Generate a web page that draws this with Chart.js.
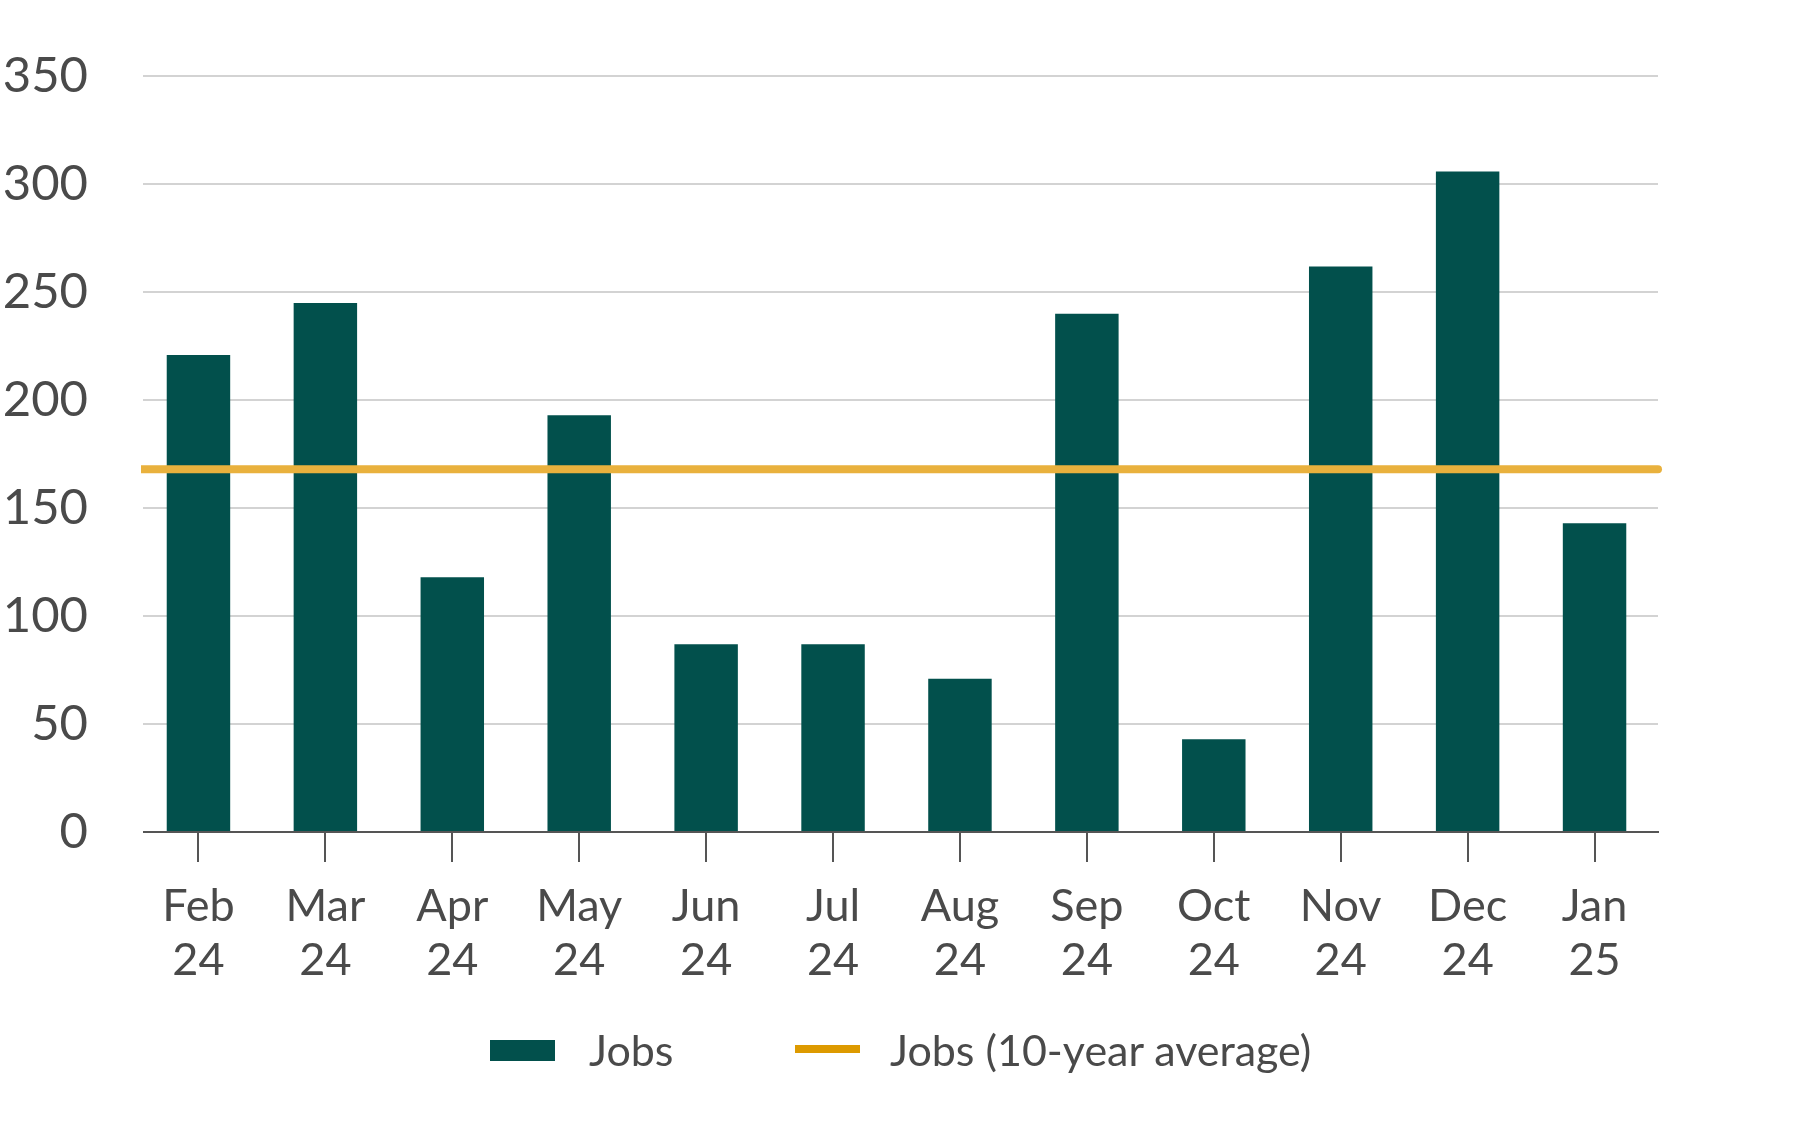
<!DOCTYPE html>
<html>
<head>
<meta charset="utf-8">
<script src="https://cdn.jsdelivr.net/npm/chart.js@4.4.1/dist/chart.umd.min.js"></script>
<style>
  html, body { margin: 0; padding: 0; background: #fff; }
  #wrap { position: relative; width: 1810px; height: 1124px; }
  canvas { position: absolute; left: 0; top: 0; }
  .lg { position: absolute; font-family: Lato, sans-serif; font-size: 43px; color: #4a4a4a; line-height: 1; }
  .sw { position: absolute; }
</style>
</head>
<body>
<div id="wrap">
  <canvas id="c" width="1810" height="1124"></canvas>
  <div class="sw" style="left:490px;top:1040px;width:65px;height:21px;background:#02504C"></div>
  <div class="lg" style="left:589px;top:1028px">Jobs</div>
  <div class="sw" style="left:795px;top:1045px;width:65px;height:8px;background:#DD9A00"></div>
  <div class="lg" style="left:890px;top:1028px">Jobs (10-year average)</div>
</div>
<script>
const categories = [["Feb","24"],["Mar","24"],["Apr","24"],["May","24"],["Jun","24"],["Jul","24"],["Aug","24"],["Sep","24"],["Oct","24"],["Nov","24"],["Dec","24"],["Jan","25"]];
const jobs = [221, 245, 118, 193, 87, 87, 71, 240, 43, 262, 306, 143];
const tenYearAverage = 168;
const averageSeries = categories.map(() => tenYearAverage);
const yTicks = [0, 50, 100, 150, 200, 250, 300, 350];

const FONT = 'Lato, sans-serif';
const TEXT = '#4a4a4a';

// Trim the first few pixels of the grid / axis so they start slightly inside the category band
const gridTrim = {
  id: 'gridTrim',
  beforeDatasetsDraw(chart) {
    const { ctx, chartArea } = chart;
    ctx.save();
    ctx.fillStyle = '#ffffff';
    ctx.fillRect(chartArea.left - 4, chartArea.top - 4, 12, chartArea.bottom - chartArea.top + 6);
    ctx.restore();
  }
};

new Chart(document.getElementById('c'), {
  type: 'bar',
  plugins: [gridTrim],
  data: {
    labels: categories,
    datasets: [
      {
        type: 'line',
        label: 'Jobs (10-year average)',
        data: averageSeries,
        xAxisID: 'x2',
        borderColor: '#E9B13D',
        borderWidth: 8,
        borderCapStyle: 'round',
        pointRadius: 0,
        clip: { left: -6, top: 20, right: 20, bottom: 20 },
        order: 0
      },
      {
        type: 'bar',
        label: 'Jobs',
        data: jobs,
        xAxisID: 'x',
        backgroundColor: '#02504C',
        barPercentage: 0.5,
        categoryPercentage: 1,
        grouped: false,
        order: 1
      }
    ]
  },
  options: {
    responsive: false,
    animation: false,
    layout: { padding: { left: 0, right: 152, top: 61, bottom: 122 } },
    plugins: { legend: { display: false }, tooltip: { enabled: false } },
    scales: {
      x: {
        type: 'category',
        offset: true,
        grid: { offset: false, drawOnChartArea: false, drawTicks: true, tickLength: 30, color: '#555', lineWidth: 2 },
        border: { display: true, color: '#555', width: 2 },
        ticks: { font: { family: FONT, size: 45, lineHeight: '54px' }, color: TEXT, padding: 17, maxRotation: 0, autoSkip: false },
        afterFit: s => { s.height = 170; }
      },
      x2: {
        type: 'category',
        labels: categories,
        offset: false,
        display: false
      },
      y: {
        min: 0,
        max: 350,
        afterBuildTicks: s => { s.ticks = yTicks.map(v => ({ value: v })); },
        grid: { color: '#d3d3d3', lineWidth: 2, drawTicks: false },
        border: { display: false },
        ticks: { font: { family: FONT, size: 49 }, color: TEXT, padding: 47 },
        afterFit: s => { s.width = 135; }
      }
    }
  }
});
</script>
</body>
</html>
